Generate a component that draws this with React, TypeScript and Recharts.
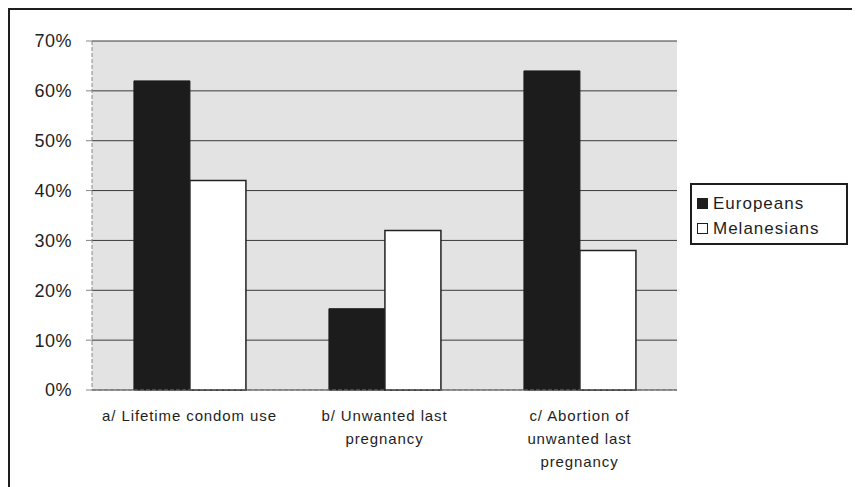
import { BarChart, Bar, XAxis, YAxis, CartesianGrid } from "recharts";

const CATEGORIES = [
  "a/ Lifetime condom use",
  "b/ Unwanted last pregnancy",
  "c/ Abortion of unwanted last pregnancy",
];
const CATEGORY_LINES: Record<string, string[]> = {
  "a/ Lifetime condom use": ["a/ Lifetime condom use"],
  "b/ Unwanted last pregnancy": ["b/ Unwanted last", "pregnancy"],
  "c/ Abortion of unwanted last pregnancy": ["c/ Abortion of", "unwanted last", "pregnancy"],
};
const EUROPEANS = [62, 16.3, 64];
const MELANESIANS = [42, 32, 28];
const Y_TICKS = [0, 10, 20, 30, 40, 50, 60, 70];

const data = CATEGORIES.map((name, i) => ({
  name,
  europeans: EUROPEANS[i],
  melanesians: MELANESIANS[i],
}));

const FONT = "Arial, 'Liberation Sans', sans-serif";
const INK = "#1e1e1e";

const CategoryTick = (props: any) => {
  const { x, y, payload } = props;
  const lines = CATEGORY_LINES[payload.value] ?? [payload.value];
  return (
    <g transform={`translate(${x},${y})`}>
      {lines.map((l, i) => (
        <text
          key={i}
          x={0}
          y={23 + i * 23}
          textAnchor="middle"
          fontSize={15}
          letterSpacing={0.9}
          fontFamily={FONT}
          fill={INK}
        >
          {l}
        </text>
      ))}
    </g>
  );
};

const LegendBox = () => (
  <div
    style={{
      position: "absolute",
      left: 680,
      top: 173,
      width: 158,
      height: 62,
      border: `2px solid ${INK}`,
      background: "#fff",
      fontFamily: FONT,
      fontSize: 17,
      letterSpacing: 1,
      color: INK,
      padding: "6px 0 0 5px",
      boxSizing: "border-box",
      lineHeight: "25px",
    }}
  >
    <div style={{ display: "flex", alignItems: "center", gap: 5 }}>
      <span style={{ width: 9, height: 9, background: INK, border: `1px solid ${INK}` }} />
      Europeans
    </div>
    <div style={{ display: "flex", alignItems: "center", gap: 5 }}>
      <span style={{ width: 9, height: 9, background: "#fff", border: `1px solid ${INK}` }} />
      Melanesians
    </div>
  </div>
);

export default function App() {
  return (
    <div
      style={{
        width: 846,
        height: 479,
        borderTop: `2px solid ${INK}`,
        borderLeft: `2px solid ${INK}`,
        borderRight: `2px solid ${INK}`,
        boxSizing: "border-box",
        background: "#fff",
        position: "relative",
      }}
    >
      <div style={{ position: "absolute", left: -2, top: -2 }}>
        <BarChart
          width={846}
          height={481}
          data={data}
          margin={{ top: 33, right: 177, left: 0, bottom: 0 }}
          barGap={0}
          barCategoryGap="21.5%"
        >
          <CartesianGrid vertical={false} stroke="#3a3a3a" strokeWidth={1} fill="#e3e3e3" />
          <XAxis
            dataKey="name"
            height={99}
            tick={<CategoryTick />}
            tickLine={false}
            axisLine={{ stroke: "#777", strokeDasharray: "4 2" }}
            interval={0}
          />
          <YAxis
            width={84}
            domain={[0, 70]}
            ticks={Y_TICKS}
            tickFormatter={(v: number) => `${v}%`}
            tick={{ fontSize: 18, fill: INK, fontFamily: FONT, letterSpacing: 0.5 }}
            tickSize={6}
            tickMargin={14}
            tickLine={{ stroke: "#888" }}
            axisLine={{ stroke: "#888", strokeDasharray: "4 2" }}
            interval={0}
          />
          <Bar
            dataKey="europeans"
            name="Europeans"
            fill="#1c1c1c"
            stroke="#1c1c1c"
            isAnimationActive={false}
          />
          <Bar
            dataKey="melanesians"
            name="Melanesians"
            fill="#ffffff"
            stroke="#222"
            strokeWidth={1.5}
            isAnimationActive={false}
          />
        </BarChart>
      </div>
      <LegendBox />
    </div>
  );
}
